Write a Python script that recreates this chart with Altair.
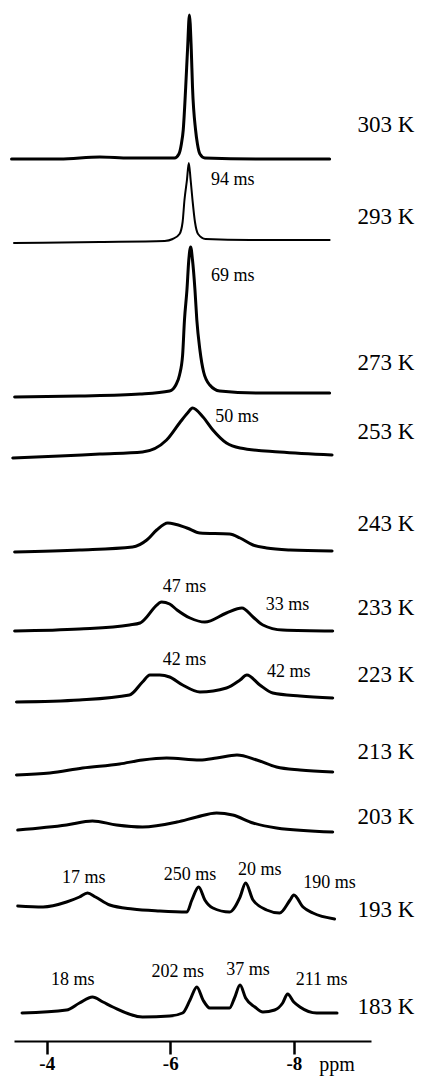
import altair as alt
import pandas as pd

# chemical shift (ppm) and intensity level (stacked, arbitrary units) for each spectrum
ppm_303 = [-3.43, -4.21, -4.86, -5.34, -5.99, -6.07, -6.14, -6.18, -6.21, -6.25, -6.28, -6.31, -6.34, -6.36, -6.41, -6.44, -6.48, -6.56, -7.45, -8.58]
lvl_303 = [882, 882, 884, 883, 883, 883, 887, 897, 911, 954, 992, 1026, 992, 954, 911, 897, 887, 883, 882, 882]

ppm_293 = [-3.47, -4.86, -5.91, -6.04, -6.15, -6.20, -6.23, -6.27, -6.30, -6.33, -6.36, -6.40, -6.45, -6.57, -7.29, -8.58]
lvl_293 = [798, 799, 800, 802, 807, 819, 841, 861, 878, 861, 841, 819, 807, 802, 801, 801]

ppm_273 = [-3.48, -4.53, -5.51, -5.99, -6.09, -6.15, -6.20, -6.23, -6.27, -6.30, -6.33, -6.36, -6.40, -6.43, -6.48, -6.54, -6.64, -6.80, -7.45, -8.58]
lvl_273 = [644, 645, 647, 650, 656, 666, 686, 721, 751, 781, 794, 781, 751, 721, 691, 669, 656, 650, 648, 648]

ppm_253 = [-3.45, -4.21, -4.86, -5.55, -5.94, -6.15, -6.28, -6.36, -6.53, -6.69, -6.91, -7.13, -7.77, -8.62]
lvl_253 = [583, 585, 587, 589, 601, 618, 628, 633, 624, 611, 598, 593, 589, 586]

ppm_243 = [-3.48, -4.53, -5.39, -5.62, -5.78, -5.96, -6.27, -6.48, -6.96, -7.13, -7.34, -7.56, -7.94, -8.62]
lvl_243 = [489, 491, 494, 501, 511, 518, 513, 508, 507, 503, 496, 493, 491, 490]

ppm_233 = [-3.48, -4.53, -5.34, -5.51, -5.62, -5.75, -5.86, -5.99, -6.11, -6.32, -6.56, -6.91, -7.16, -7.34, -7.50, -7.82, -8.63]
lvl_233 = [410, 412, 416, 418, 424, 434, 439, 437, 431, 423, 419, 428, 433, 424, 416, 411, 410]

ppm_223 = [-3.51, -4.53, -5.34, -5.55, -5.67, -5.83, -5.99, -6.20, -6.48, -6.91, -7.13, -7.24, -7.45, -7.66, -8.10, -8.63]
lvl_223 = [339, 341, 346, 359, 366, 366, 364, 356, 349, 353, 361, 366, 356, 348, 345, 343]

ppm_213 = [-3.51, -4.05, -4.58, -5.18, -5.55, -5.94, -6.48, -6.75, -7.08, -7.40, -7.72, -8.10, -8.63]
lvl_213 = [266, 268, 273, 277, 281, 283, 281, 283, 286, 281, 274, 271, 269]

ppm_203 = [-3.53, -4.32, -4.74, -5.13, -5.55, -6.11, -6.43, -6.75, -7.01, -7.34, -7.72, -8.63]
lvl_203 = [211, 216, 220, 216, 214, 219, 224, 228, 226, 218, 213, 209]

ppm_193 = [-3.53, -3.94, -4.32, -4.53, -4.66, -4.79, -5.02, -5.39, -5.83, -6.27, -6.35, -6.46, -6.56, -6.69, -6.96, -7.13, -7.22, -7.34, -7.56, -7.77, -7.94, -8.00, -8.15, -8.31, -8.66]
lvl_193 = [135, 134, 139, 144, 148, 144, 136, 132, 130, 129, 141, 154, 141, 133, 129, 144, 158, 141, 131, 128, 141, 146, 134, 128, 122]

ppm_183 = [-3.60, -4.32, -4.53, -4.74, -4.91, -5.07, -5.55, -5.99, -6.20, -6.32, -6.43, -6.53, -6.64, -6.96, -7.04, -7.13, -7.22, -7.37, -7.50, -7.69, -7.82, -7.90, -8.00, -8.10, -8.37, -8.70]
lvl_183 = [28, 31, 38, 44, 39, 34, 24, 25, 28, 41, 54, 41, 33, 33, 43, 56, 43, 34, 29, 31, 38, 47, 39, 34, 28, 28]

temps = ["303 K", "293 K", "273 K", "253 K", "243 K", "233 K", "223 K", "213 K", "203 K", "193 K", "183 K"]
temp_level = [916, 824, 678, 609, 517, 433, 366, 289, 224, 131, 34]
temp_ppm = -9.49

ms_text = ["94 ms", "69 ms", "50 ms", "47 ms", "33 ms", "42 ms", "42 ms",
           "17 ms", "250 ms", "20 ms", "190 ms", "18 ms", "202 ms", "37 ms", "211 ms"]
ms_ppm = [-7.01, -7.01, -7.08, -6.23, -7.90, -6.23, -7.92,
          -4.60, -6.32, -7.45, -8.58, -4.42, -6.12, -7.26, -8.45]
ms_level = [861, 765, 624, 454, 436, 381, 369,
            163, 166, 171, 158, 61, 69, 71, 61]

tick_values = [-4, -6, -8]

spectra = [
    ("303 K", ppm_303, lvl_303), ("293 K", ppm_293, lvl_293), ("273 K", ppm_273, lvl_273),
    ("253 K", ppm_253, lvl_253), ("243 K", ppm_243, lvl_243), ("233 K", ppm_233, lvl_233),
    ("223 K", ppm_223, lvl_223), ("213 K", ppm_213, lvl_213), ("203 K", ppm_203, lvl_203),
    ("193 K", ppm_193, lvl_193), ("183 K", ppm_183, lvl_183),
]
rows = []
for t, xs, ys in spectra:
    for i, (x, y) in enumerate(zip(xs, ys)):
        rows.append({"T": t, "ppm": x, "level": y, "i": i})
df = pd.DataFrame(rows)

df_temp = pd.DataFrame({"T": temps, "ppm": [temp_ppm] * len(temps), "level": temp_level})
df_ms = pd.DataFrame({"txt": ms_text, "ppm": ms_ppm, "level": ms_level})
df_unit = pd.DataFrame({"txt": ["ppm"], "ppm": [-8.70], "level": [-24]})

FONT = "Liberation Serif"

xscale = alt.Scale(domain=[-9.25, -3.47], reverse=True, nice=False, zero=False)
yscale = alt.Scale(domain=[0, 1036], nice=False, zero=False)

lines = alt.Chart(df).mark_line(interpolate="monotone", color="black", strokeJoin="round", strokeCap="round").encode(
    x=alt.X("ppm:Q", scale=xscale, title=None,
            axis=alt.Axis(values=tick_values, labelExpr="'-' + format(abs(datum.value), 'd')",
                          grid=False, domainColor="black", domainWidth=2, tickColor="black",
                          tickWidth=2.5, tickSize=13, labelFont=FONT, labelFontSize=19,
                          labelFontWeight="bold", labelColor="black", labelPadding=0)),
    y=alt.Y("level:Q", scale=yscale, axis=None),
    detail="T:N",
    order="i:Q",
    strokeWidth=alt.condition(alt.datum.T == "293 K", alt.value(2.0), alt.value(3.0)),
)

temp_text = alt.Chart(df_temp).mark_text(font=FONT, fontSize=23, color="black", align="center", baseline="middle").encode(
    x=alt.X("ppm:Q", scale=xscale), y=alt.Y("level:Q", scale=yscale), text="T:N")

ms_labels = alt.Chart(df_ms).mark_text(font=FONT, fontSize=18, color="black", align="center", baseline="middle").encode(
    x=alt.X("ppm:Q", scale=xscale), y=alt.Y("level:Q", scale=yscale), text="txt:N")

unit = alt.Chart(df_unit).mark_text(font=FONT, fontSize=20, color="black", align="center", baseline="middle").encode(
    x=alt.X("ppm:Q", scale=xscale), y=alt.Y("level:Q", scale=yscale), text="txt:N")

chart = alt.layer(lines, temp_text, ms_labels, unit).properties(
    width=357, height=1036,
    padding={"left": 14, "top": 5, "right": 51, "bottom": 35},
    autosize=alt.AutoSizeParams(type="none"),
    background="white",
).configure_view(stroke=None)

chart.save("out.html", embed_options={"renderer": "svg", "actions": False})
